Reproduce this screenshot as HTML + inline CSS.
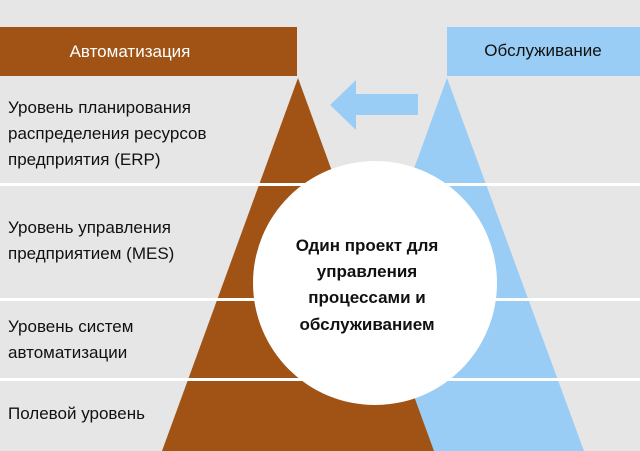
<!DOCTYPE html>
<html><head><meta charset="utf-8"><style>
body{margin:0;width:640px;height:451px;overflow:hidden;background:#e6e6e6;}
svg{display:block;font-family:"Liberation Sans",sans-serif;}
</style></head><body>
<svg width="640" height="451" viewBox="0 0 640 451">
<rect width="640" height="451" fill="#e6e6e6"/>
<rect x="0" y="27" width="297" height="49" fill="#a05314"/>
<rect x="447" y="27" width="193" height="49" fill="#99cdf5"/>
<text x="130" y="57" fill="#fff" font-size="17" text-anchor="middle">Автоматизация</text>
<text x="543" y="56" fill="#111" font-size="17" text-anchor="middle">Обслуживание</text>
<polygon points="447,78 311,451 584,451" fill="#99cdf5"/>
<polygon points="298,78 162,451 434,451" fill="#a05314"/>
<polygon points="330,105 356,80 356,94 418,94 418,115 356,115 356,130" fill="#99cdf5"/>
<rect x="0" y="183" width="640" height="3" fill="#fff"/>
<rect x="0" y="298" width="640" height="3" fill="#fff"/>
<rect x="0" y="378" width="640" height="3" fill="#fff"/>
<circle cx="375" cy="283" r="122" fill="#fff"/>
<g font-size="17" fill="#111">
<text x="8" y="113">Уровень планирования</text>
<text x="8" y="139">распределения ресурсов</text>
<text x="8" y="165">предприятия (ERP)</text>
<text x="8" y="233">Уровень управления</text>
<text x="8" y="259">предприятием (MES)</text>
<text x="8" y="332">Уровень систем</text>
<text x="8" y="358">автоматизации</text>
<text x="8" y="419">Полевой уровень</text>
</g>
<g font-size="17" font-weight="bold" fill="#111" text-anchor="middle">
<text x="367" y="251">Один проект для</text>
<text x="367" y="277">управления</text>
<text x="367" y="303">процессами и</text>
<text x="367" y="330">обслуживанием</text>
</g>
</svg>
</body></html>
